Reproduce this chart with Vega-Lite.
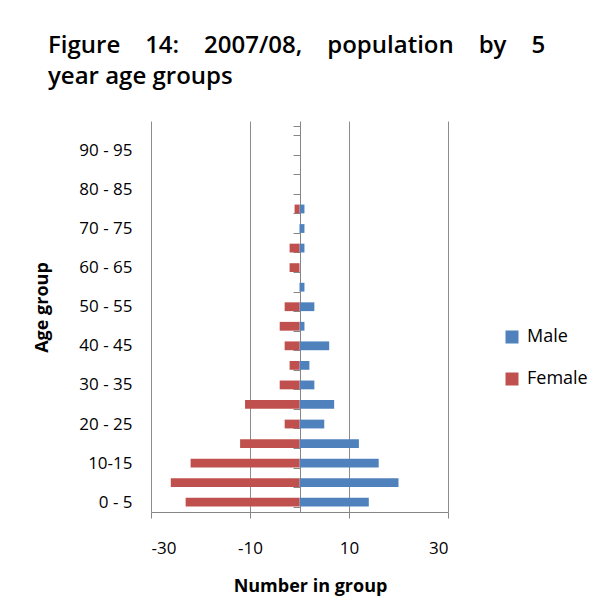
{
  "$schema": "https://vega.github.io/schema/vega-lite/v6.json",
  "autosize": "none",
  "width": 297,
  "height": 391,
  "padding": {"left": 151, "top": 121, "right": 155, "bottom": 101},
  "background": "white",
  "title": {
    "text": ["Figure\u00a0\u00a0\u00a0\u00a014:\u00a0\u00a0\u00a0\u00a02007/08,\u00a0\u00a0\u00a0\u00a0population\u00a0\u00a0\u00a0\u00a0by\u00a0\u00a0\u00a0\u00a05", "year age groups"],
    "anchor": "start",
    "frame": "group",
    "dx": -103,
    "offset": 23,
    "font": "Open Sans",
    "fontSize": 24,
    "fontWeight": 600,
    "color": "#000000",
    "lineHeight": 31
  },
  "data": {
    "values": [
      {"age": "0 - 5", "sex": "Male", "n": 14}, {"age": "0 - 5", "sex": "Female", "n": -23},
      {"age": "5 - 10", "sex": "Male", "n": 20}, {"age": "5 - 10", "sex": "Female", "n": -26},
      {"age": "10-15", "sex": "Male", "n": 16}, {"age": "10-15", "sex": "Female", "n": -22},
      {"age": "15 - 20", "sex": "Male", "n": 12}, {"age": "15 - 20", "sex": "Female", "n": -12},
      {"age": "20 - 25", "sex": "Male", "n": 5}, {"age": "20 - 25", "sex": "Female", "n": -3},
      {"age": "25 - 30", "sex": "Male", "n": 7}, {"age": "25 - 30", "sex": "Female", "n": -11},
      {"age": "30 - 35", "sex": "Male", "n": 3}, {"age": "30 - 35", "sex": "Female", "n": -4},
      {"age": "35 - 40", "sex": "Male", "n": 2}, {"age": "35 - 40", "sex": "Female", "n": -2},
      {"age": "40 - 45", "sex": "Male", "n": 6}, {"age": "40 - 45", "sex": "Female", "n": -3},
      {"age": "45 - 50", "sex": "Male", "n": 1}, {"age": "45 - 50", "sex": "Female", "n": -4},
      {"age": "50 - 55", "sex": "Male", "n": 3}, {"age": "50 - 55", "sex": "Female", "n": -3},
      {"age": "55 - 60", "sex": "Male", "n": 1}, {"age": "55 - 60", "sex": "Female", "n": 0},
      {"age": "60 - 65", "sex": "Male", "n": 0}, {"age": "60 - 65", "sex": "Female", "n": -2},
      {"age": "65 - 70", "sex": "Male", "n": 1}, {"age": "65 - 70", "sex": "Female", "n": -2},
      {"age": "70 - 75", "sex": "Male", "n": 1}, {"age": "70 - 75", "sex": "Female", "n": 0},
      {"age": "75 - 80", "sex": "Male", "n": 1}, {"age": "75 - 80", "sex": "Female", "n": -1},
      {"age": "80 - 85", "sex": "Male", "n": 0}, {"age": "80 - 85", "sex": "Female", "n": 0},
      {"age": "85 - 90", "sex": "Male", "n": 0}, {"age": "85 - 90", "sex": "Female", "n": 0},
      {"age": "90 - 95", "sex": "Male", "n": 0}, {"age": "90 - 95", "sex": "Female", "n": 0},
      {"age": "95 - 100", "sex": "Male", "n": 0}, {"age": "95 - 100", "sex": "Female", "n": 0}
    ]
  },
  "mark": {"type": "bar"},
  "encoding": {
    "y": {
      "field": "age",
      "type": "nominal",
      "scale": {
        "domain": ["95 - 100", "90 - 95", "85 - 90", "80 - 85", "75 - 80", "70 - 75", "65 - 70", "60 - 65", "55 - 60", "50 - 55", "45 - 50", "40 - 45", "35 - 40", "30 - 35", "25 - 30", "20 - 25", "15 - 20", "10-15", "5 - 10", "0 - 5"],
        "paddingInner": 0.55,
        "paddingOuter": 0.275
      },
      "axis": {
        "title": "Age group",
        "titleFont": "Open Sans",
        "titleFontSize": 18,
        "titleFontWeight": "bold",
        "titleColor": "#000000",
        "titleX": -258,
        "titleY": 186,
        "titleAngle": 270,
        "titleBaseline": "middle",
        "titleAlign": "center",
        "offset": -149,
        "tickBand": "extent",
        "tickSize": 7,
        "tickColor": "#868686",
        "domainColor": "#868686",
        "labelPadding": 161,
        "labelFont": "Open Sans",
        "labelFontSize": 17,
        "labelColor": "#000000",
        "labelExpr": "indexof(['0 - 5','10-15','20 - 25','30 - 35','40 - 45','50 - 55','60 - 65','70 - 75','80 - 85','90 - 95'], datum.value) >= 0 ? replace(datum.value, ' - ', '\u00a0-\u00a0') : ''",
        "grid": false
      }
    },
    "x": {
      "field": "n",
      "type": "quantitative",
      "stack": null,
      "scale": {"domain": [-30, 30], "nice": false, "zero": false},
      "axis": {
        "title": "Number in group",
        "values": [-30, -10, 10, 30],
        "labelExpr": "datum.value < 0 ? '-' + abs(datum.value) : '' + datum.value",
        "titleFont": "Open Sans",
        "titleFontSize": 18,
        "titleFontWeight": "bold",
        "titleColor": "#000000",
        "titlePadding": 21,
        "titleX": 159,
        "labelFont": "Open Sans",
        "labelFontSize": 17,
        "labelColor": "#000000",
        "labelPadding": 22,
        "tickSize": 6,
        "tickColor": "#868686",
        "domainColor": "#868686",
        "grid": true,
        "gridColor": "#8c8c8c"
      }
    },
    "color": {
      "field": "sex",
      "type": "nominal",
      "scale": {"domain": ["Male", "Female"], "range": ["#4F81BD", "#C0504D"]},
      "legend": {
        "title": null,
        "orient": "none",
        "legendX": 352,
        "legendY": 207,
        "symbolType": "square",
        "symbolSize": 169,
        "symbolStrokeWidth": 0,
        "labelFont": "Open Sans",
        "labelFontSize": 18,
        "labelColor": "#000000",
        "labelOffset": 6,
        "rowPadding": 24
      }
    }
  },
  "config": {
    "view": {"stroke": null}
  }
}
